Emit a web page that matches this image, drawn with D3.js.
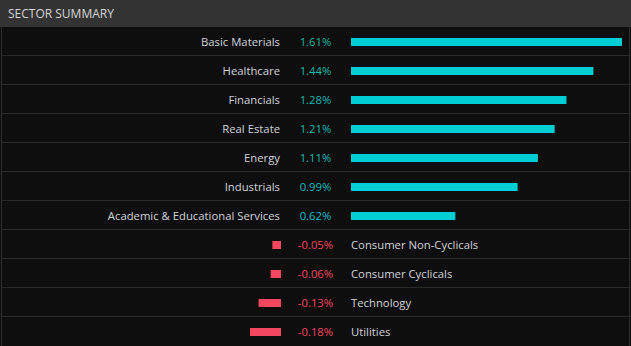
<!DOCTYPE html>
<html><head><meta charset="utf-8">
<script src="https://cdn.jsdelivr.net/npm/d3@7"></script>
<style>
html,body{margin:0;padding:0;background:#0e0e0e;overflow:hidden;}
svg{display:block;font-family:"Open Sans","Noto Sans",Arial,sans-serif;}
</style></head>
<body><svg id="c" width="631" height="346"></svg>
<script>
const title = "SECTOR SUMMARY";
const sectors = ["Basic Materials","Healthcare","Financials","Real Estate","Energy","Industrials","Academic & Educational Services","Consumer Non-Cyclicals","Consumer Cyclicals","Technology","Utilities"];
const changes = [1.61,1.44,1.28,1.21,1.11,0.99,0.62,-0.05,-0.06,-0.13,-0.18];

const W = 631, H = 346, headerH = 27, rowH = 29;
const svg = d3.select("#c");
svg.append("rect").attr("width",W).attr("height",H).attr("fill","#0e0e0e");
svg.append("rect").attr("width",W).attr("height",headerH).attr("fill","#333333");
svg.append("text").attr("x",8).attr("y",18).attr("fill","#d4d4d4")
  .attr("font-size",12).text(title);

const y = d3.scaleBand().domain(sectors).range([headerH, headerH + rowH*sectors.length]);
const zeroPos = 351, zeroNeg = 281;
const xPos = d3.scaleLinear().domain([0, 1.61]).range([zeroPos, 622]);
const xNeg = d3.scaleLinear().domain([0, -0.18]).range([zeroNeg, 250]);
const col = d3.scaleLinear().domain([0.6, 1.61]).range(["#14bccd","#1fb6a0"]);
const fmt = v => d3.format(".2f")(v).replace("\u2212","-") + "%";

const rows = svg.selectAll("g.row").data(sectors).join("g").attr("class","row")
  .attr("transform", d => `translate(0,${y(d)})`);

rows.append("line").attr("x1",1).attr("x2",630).attr("y1",rowH-0.5).attr("y2",rowH-0.5)
  .attr("stroke","#2a2a2a").attr("stroke-width",1)
  .attr("display",(d,i)=> i===sectors.length-1 ? "none" : null);

rows.append("rect")
  .attr("x",(d,i)=> changes[i]>=0 ? zeroPos : xNeg(changes[i]))
  .attr("width",(d,i)=> changes[i]>=0 ? xPos(changes[i])-zeroPos : zeroNeg - xNeg(changes[i]))
  .attr("y", 11).attr("height", 8)
  .attr("fill",(d,i)=> changes[i]>=0 ? "#00cdd4" : "#f2475f");

rows.append("text")
  .attr("x",(d,i)=> changes[i]>=0 ? 280 : 351)
  .attr("text-anchor",(d,i)=> changes[i]>=0 ? "end" : "start")
  .attr("y",19).attr("font-size",11.3).attr("fill","#cfd3d8").text(d=>d);

rows.append("text").attr("x",315.5).attr("text-anchor","middle")
  .attr("y",19).attr("font-size",11.3)
  .attr("fill",(d,i)=> changes[i]>=0 ? col(changes[i]) : "#f2475f")
  .text((d,i)=> fmt(changes[i]));

svg.append("line").attr("x1",1.5).attr("x2",1.5).attr("y1",headerH).attr("y2",H).attr("stroke","#2e2e2e");
svg.append("line").attr("x1",629.5).attr("x2",629.5).attr("y1",headerH).attr("y2",H).attr("stroke","#2e2e2e");
</script></body></html>
